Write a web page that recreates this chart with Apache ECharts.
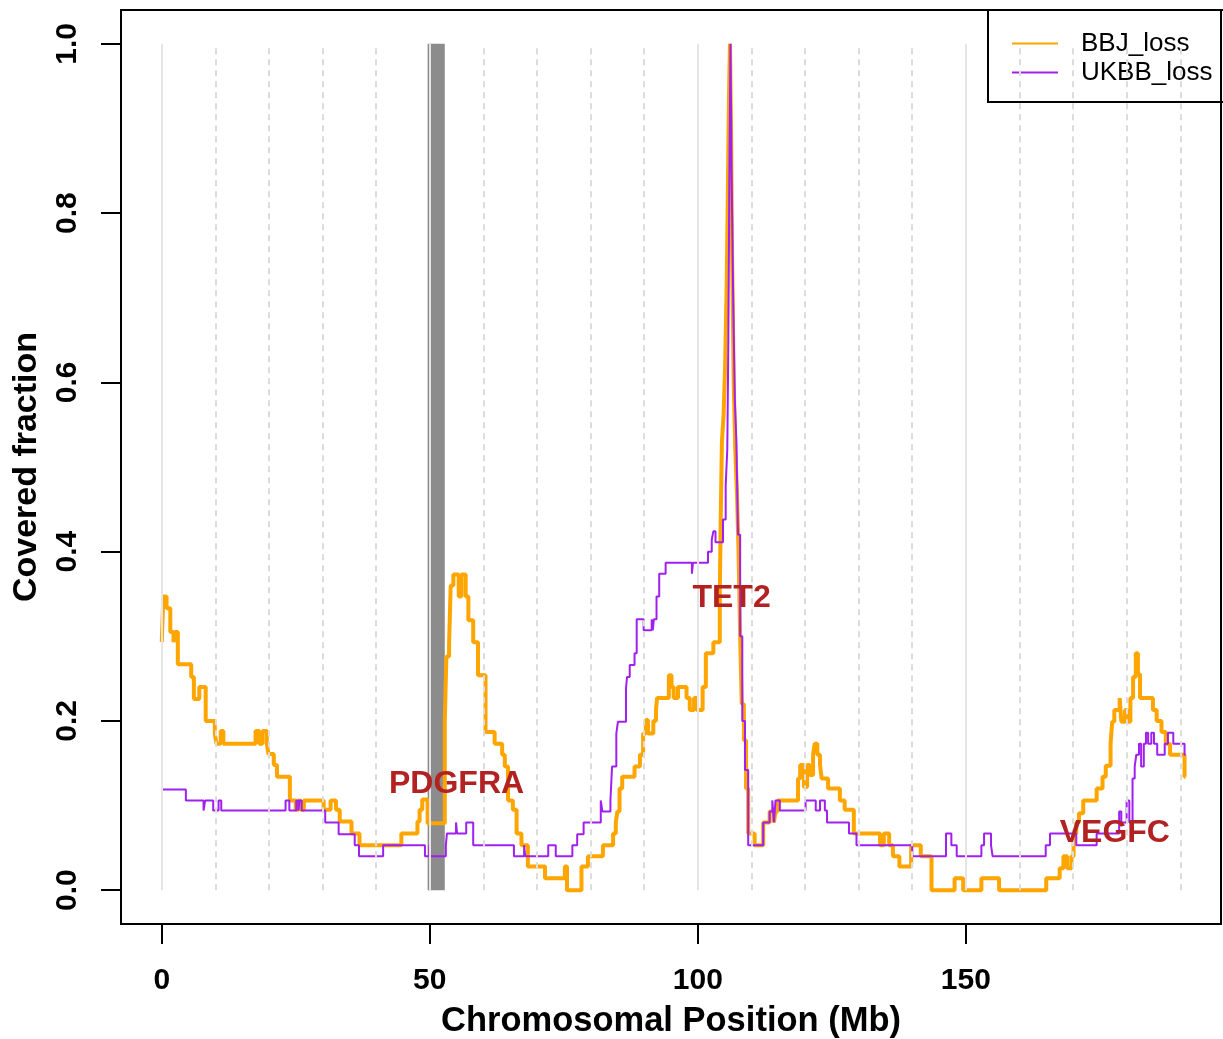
<!DOCTYPE html>
<html><head><meta charset="utf-8">
<script src="https://cdn.jsdelivr.net/npm/echarts@6/dist/echarts.min.js"></script>
<style>html,body{margin:0;padding:0;background:#fff;}#c{width:1223px;height:1039px;}</style>
</head><body><div id="c"></div>
<script>
// BBJ_loss: step positions (Mb) and covered fraction held from each position to the next
var bbjPos = [0.0,0.3,0.9,1.6,2.2,2.5,3.0,5.5,6.0,7.0,8.2,9.9,10.2,11.0,11.5,17.5,18.2,18.8,19.6,19.9,20.9,21.5,23.9,25.0,25.5,25.9,26.5,30.2,31.5,32.5,33.2,35.4,36.9,44.7,47.7,48.1,48.6,49.6,52.8,53.1,53.6,53.9,54.4,55.4,55.9,56.7,57.2,58.1,59.0,60.4,62.1,63.5,64.0,64.6,65.5,66.2,67.1,68.3,71.5,75.2,75.6,78.3,79.5,82.3,84.2,84.7,85.0,85.4,85.9,88.2,89.2,89.8,90.3,90.7,91.7,92.2,92.4,94.6,95.1,95.5,96.3,97.9,98.5,99.3,99.8,100.9,101.5,102.9,103.5,104.1,104.3,104.5,104.8,105.1,105.4,105.6,105.8,106.0,106.2,106.4,106.7,107.0,107.3,107.6,107.9,108.2,108.6,109.0,109.4,110.6,112.2,113.4,114.2,114.5,114.9,118.7,119.1,119.8,120.4,120.9,121.5,121.8,122.3,122.8,123.1,124.3,126.5,127.4,129.1,134.0,134.7,135.7,136.4,137.6,139.8,141.6,143.6,147.9,149.5,152.9,156.2,165.0,167.5,168.2,168.9,169.7,170.1,170.6,171.1,171.9,174.4,175.5,176.1,177.0,177.3,177.7,178.7,179.0,179.7,180.1,180.7,181.2,181.7,182.1,182.5,184.9,185.6,186.5,187.3,188.1,190.8,191.0];
var bbjVal = [0.293,0.347,0.333,0.305,0.293,0.305,0.267,0.252,0.226,0.240,0.200,0.185,0.173,0.188,0.173,0.188,0.173,0.188,0.173,0.161,0.148,0.134,0.106,0.095,0.106,0.095,0.106,0.095,0.106,0.095,0.081,0.067,0.053,0.067,0.081,0.095,0.107,0.079,0.200,0.276,0.290,0.360,0.373,0.347,0.373,0.347,0.319,0.293,0.254,0.187,0.173,0.160,0.146,0.106,0.095,0.067,0.053,0.028,0.014,0.028,0.000,0.028,0.040,0.053,0.067,0.080,0.093,0.120,0.134,0.146,0.160,0.185,0.201,0.185,0.200,0.213,0.227,0.254,0.240,0.227,0.240,0.227,0.213,0.227,0.213,0.240,0.280,0.293,0.293,0.350,0.450,0.530,0.560,0.620,0.720,0.820,0.930,1.000,0.900,0.750,0.600,0.520,0.470,0.400,0.300,0.220,0.177,0.120,0.067,0.053,0.080,0.093,0.080,0.093,0.106,0.132,0.148,0.122,0.148,0.136,0.160,0.173,0.160,0.148,0.132,0.120,0.106,0.095,0.067,0.053,0.067,0.053,0.040,0.028,0.053,0.040,0.000,0.014,0.000,0.014,0.000,0.014,0.026,0.040,0.026,0.040,0.067,0.080,0.091,0.106,0.120,0.134,0.147,0.173,0.199,0.213,0.227,0.199,0.213,0.199,0.227,0.252,0.280,0.255,0.227,0.213,0.200,0.187,0.173,0.160,0.134,0.134];
// UKBB_loss
var ukbbPos = [0.0,4.5,7.8,8.1,9.6,10.6,11.1,23.1,23.8,25.1,25.5,25.7,26.1,30.5,33.0,36.0,36.8,41.3,49.1,49.9,50.1,53.0,53.2,54.9,55.1,56.8,58.1,65.7,67.6,67.8,72.1,73.5,76.6,77.5,78.7,81.9,82.2,83.7,84.0,84.8,85.1,86.6,86.8,87.3,88.2,88.6,89.9,91.4,91.6,91.8,92.3,92.8,94.0,98.9,99.1,101.9,102.6,102.9,103.3,104.7,105.2,105.5,105.7,105.9,106.1,106.3,106.6,106.9,107.2,107.5,107.9,108.3,108.8,109.4,112.2,113.4,113.9,114.2,114.5,115.3,120.1,122.0,122.8,123.7,124.1,128.2,129.6,140.0,146.3,147.3,148.3,152.9,153.4,154.7,155.0,164.9,165.7,170.6,174.4,178.6,179.0,180.0,180.5,181.1,181.5,181.8,182.3,182.7,183.2,183.6,184.0,184.6,185.1,185.7,187.1,187.7,188.7,190.8,191.0];
var ukbbVal = [0.119,0.106,0.094,0.106,0.094,0.106,0.094,0.106,0.094,0.106,0.094,0.106,0.094,0.080,0.066,0.053,0.040,0.053,0.040,0.053,0.040,0.053,0.067,0.080,0.067,0.080,0.053,0.040,0.053,0.040,0.053,0.040,0.053,0.066,0.080,0.106,0.093,0.106,0.146,0.185,0.199,0.238,0.252,0.266,0.280,0.320,0.307,0.320,0.307,0.320,0.347,0.374,0.387,0.374,0.387,0.400,0.414,0.424,0.411,0.438,0.478,0.521,0.650,0.850,1.000,0.850,0.700,0.580,0.530,0.420,0.300,0.200,0.142,0.053,0.080,0.093,0.106,0.080,0.106,0.094,0.106,0.094,0.106,0.094,0.080,0.067,0.053,0.040,0.067,0.053,0.040,0.053,0.067,0.053,0.040,0.053,0.067,0.053,0.067,0.093,0.080,0.106,0.080,0.132,0.146,0.160,0.173,0.146,0.173,0.186,0.173,0.186,0.173,0.160,0.173,0.186,0.173,0.160,0.160];
// gene annotations
var geneNames = ['PDGFRA','TET2','VEGFC'];
var genePos = [55.0, 106.3, 177.8];
var geneY = [0.125, 0.345, 0.067];
// highlighted region (centromere)
var bandStart = 49.6, bandEnd = 52.8;
// axis ticks and guide lines
var xTicks = [0, 50, 100, 150];
var yTicks = [0, 0.2, 0.4, 0.6, 0.8, 1.0];
var majorGuides = [0, 50, 100, 150];
var minorGuides = [10,20,30,40,60,70,80,90,110,120,130,140,160,170,180,190];
var X_MIN = -7.6, X_MAX = 197.6, Y_MIN = -0.04, Y_MAX = 1.04;

function pairs(p, v){ var out=[]; for(var i=0;i<p.length;i++) out.push([p[i], v[i]]); return out; }

var guideLines = [];
majorGuides.forEach(function(x){ guideLines.push([{coord:[x,0], lineStyle:{color:'#e5e5e5', width:2, type:'solid'}},{coord:[x,1]}]); });
minorGuides.forEach(function(x){ guideLines.push([{coord:[x,0], lineStyle:{color:'#dcdcdc', width:2, type:[6,5]}},{coord:[x,1]}]); });

var chart = echarts.init(document.getElementById('c'), null, {renderer:'canvas'});
var FONT = '"Liberation Sans", Arial, sans-serif';
chart.setOption({
  animation: false,
  backgroundColor: '#ffffff',
  grid: {left:121, top:10, right:2, bottom:115, show:true, borderColor:'#000', borderWidth:2, outerBoundsMode:'none'},
  xAxis: {
    type:'value', min:X_MIN, max:X_MAX,
    name:'Chromosomal Position (Mb)', nameLocation:'middle', nameGap:80,
    nameTextStyle:{fontFamily:FONT, fontWeight:'bold', fontSize:34.5, color:'#000'},
    axisLine:{show:true, onZero:false, lineStyle:{color:'#000', width:2}},
    axisTick:{show:true, length:20, lineStyle:{color:'#000', width:2}, customValues:xTicks},
    axisLabel:{show:true, margin:42, fontFamily:FONT, fontWeight:'bold', fontSize:30, color:'#000', customValues:xTicks},
    splitLine:{show:false}
  },
  yAxis: {
    type:'value', min:Y_MIN, max:Y_MAX,
    name:'Covered fraction', nameLocation:'middle', nameGap:77, nameRotate:90,
    nameTextStyle:{fontFamily:FONT, fontWeight:'bold', fontSize:34, color:'#000'},
    axisLine:{show:true, onZero:false, lineStyle:{color:'#000', width:2}},
    axisTick:{show:true, length:20, lineStyle:{color:'#000', width:2}, customValues:yTicks},
    axisLabel:{show:true, rotate:90, margin:38, fontFamily:FONT, fontWeight:'bold', fontSize:30, color:'#000', customValues:yTicks,
      formatter:function(v){ return v.toFixed(1); }},
    splitLine:{show:false}
  },
  legend: {
    data:['BBJ_loss','UKBB_loss'], orient:'vertical', left:1007, top:24,
    itemWidth:46, itemHeight:14, itemGap:0, icon:'path://M0,6 L46,6 L46,8 L0,8 Z',
    textStyle:{fontFamily:FONT, fontSize:26, color:'#000', lineHeight:29, padding:[0,0,0,18]},
    selectedMode:false
  },
  graphic: [{id:'legendBox', type:'rect', shape:{x:988, y:10, width:260, height:92}, style:{fill:'none', stroke:'#000', lineWidth:2}, z:100}],
  series: [
    {name:'guides', type:'line', data:[], z:1, silent:true,
      markLine:{silent:true, symbol:['none','none'], label:{show:false}, animation:false, data:guideLines}},
    {name:'band', type:'line', data:[], z:2, silent:true,
      markArea:{silent:true, itemStyle:{color:'#8c8c8c', opacity:1}, data:[[{coord:[bandStart,0]},{coord:[bandEnd,1]}]]}},
    {name:'BBJ_loss', type:'line', step:'end', symbol:'none', z:3, color:'#FFA500',
      lineStyle:{color:'#FFA500', width:4}, data:pairs(bbjPos, bbjVal)},
    {name:'UKBB_loss', type:'line', step:'end', symbol:'none', z:4, color:'#A020F0',
      lineStyle:{color:'#A020F0', width:2}, data:pairs(ukbbPos, ukbbVal)},
    {name:'genes', type:'scatter', symbolSize:0, z:6, silent:true, itemStyle:{color:'#B22222', opacity:1},
      data: geneNames.map(function(n,i){ return {name:n, value:[genePos[i], geneY[i]]}; }),
      label:{show:true, position:'inside', formatter:'{b}', fontFamily:FONT, fontWeight:'bold', fontSize:32, color:'#B22222', opacity:1, textBorderWidth:0, textBorderColor:'transparent'}}
  ]
});
</script></body></html>
